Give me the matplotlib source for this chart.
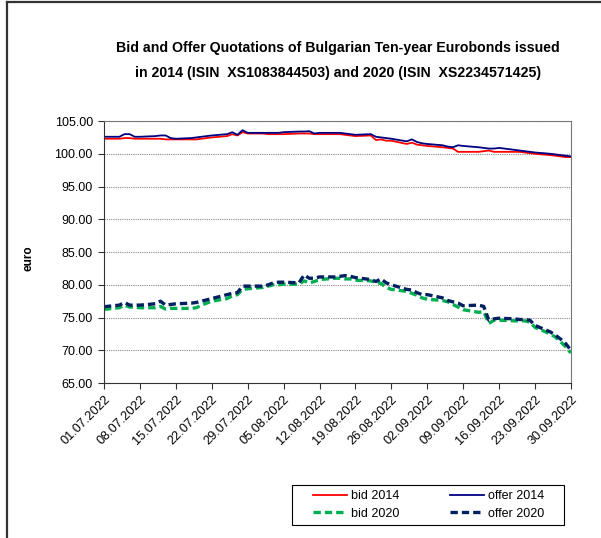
import datetime as dt
import matplotlib.pyplot as plt
from matplotlib.lines import Line2D
from matplotlib.patches import Rectangle

# trading days (day offset from 01.07.2022)
days = [0, 3, 4, 5, 6, 7, 10, 11, 12, 13, 14, 17, 18, 19, 20, 21, 24, 25, 26, 27, 28,
        31, 32, 33, 34, 35, 38, 39, 40, 41, 42, 45, 46, 47, 48, 49, 52, 53, 54, 55, 56,
        59, 60, 61, 62, 63, 66, 67, 68, 69, 70, 73, 74, 75, 76, 77, 80, 81, 82, 83, 84,
        87, 88, 89, 90, 91]

bid_2014 = [102.3, 102.3, 102.4, 102.4, 102.3, 102.3, 102.3, 102.3, 102.2, 102.2, 102.2,
            102.2, 102.2, 102.3, 102.4, 102.5, 102.7, 103.0, 102.8, 103.3, 103.1,
            103.1, 103.0, 103.0, 103.0, 103.0, 103.1, 103.1, 103.1, 103.0, 103.0,
            103.0, 103.0, 102.9, 102.8, 102.7, 102.8, 102.1, 102.2, 102.0, 102.0,
            101.5, 101.7, 101.4, 101.3, 101.2, 101.0, 100.9, 100.8, 100.3, 100.3,
            100.3, 100.4, 100.5, 100.3, 100.3, 100.3, 100.3, 100.2, 100.1, 100.0,
            99.8, 99.7, 99.6, 99.5, 99.5]
offer_2014 = [102.6, 102.6, 103.0, 103.0, 102.6, 102.6, 102.7, 102.8, 102.8, 102.4, 102.3,
              102.4, 102.5, 102.6, 102.7, 102.8, 103.0, 103.3, 102.9, 103.6, 103.2,
              103.2, 103.2, 103.2, 103.2, 103.3, 103.4, 103.4, 103.45, 103.1, 103.2,
              103.2, 103.2, 103.1, 103.0, 102.9, 103.0, 102.6, 102.5, 102.4, 102.3,
              101.9, 102.2, 101.8, 101.6, 101.5, 101.3, 101.1, 101.0, 101.3, 101.2,
              101.0, 100.9, 100.8, 100.8, 100.9, 100.6, 100.5, 100.4, 100.3, 100.2,
              100.0, 99.9, 99.8, 99.7, 99.6]
bid_2020 = [76.25, 76.5, 76.9, 76.6, 76.6, 76.5, 76.5, 76.7, 76.3, 76.4, 76.4,
            76.4, 76.5, 76.9, 77.2, 77.5, 77.9, 78.3, 78.5, 79.3, 79.4,
            79.6, 79.8, 80.0, 80.0, 80.1, 80.1, 80.6, 80.3, 80.5, 80.8,
            81.0, 81.0, 80.9, 80.9, 80.7, 80.6, 80.4, 80.2, 79.6, 79.3,
            79.0, 78.7, 78.4, 78.0, 77.8, 77.6, 77.4, 77.0, 76.6, 76.2,
            75.8, 75.9, 74.1, 74.6, 74.6, 74.5, 74.5, 74.5, 74.3, 73.5,
            72.5, 72.0, 71.3, 70.5, 69.6]
offer_2020 = [76.65, 76.9, 77.3, 76.9, 76.9, 76.9, 77.1, 77.5, 76.9, 77.0, 77.1,
              77.2, 77.3, 77.5, 77.7, 77.9, 78.5, 78.7, 78.8, 79.8, 79.8,
              79.8, 80.0, 80.3, 80.4, 80.4, 80.3, 81.5, 81.0, 81.0, 81.2,
              81.2, 81.3, 81.4, 81.3, 81.1, 80.8, 80.5, 80.9, 80.3, 80.0,
              79.3, 79.2, 78.8, 78.5, 78.5, 78.0, 77.6, 77.4, 77.2, 76.8,
              76.9, 76.7, 74.6, 74.8, 74.9, 74.8, 74.7, 74.7, 74.6, 73.8,
              72.8, 72.3, 71.7, 71.0, 70.0]

start = dt.date(2022, 7, 1)
dates = [start + dt.timedelta(days=d) for d in days]
tick_dates = [start + dt.timedelta(days=7 * i) for i in range(14)]

plt.rcParams['font.family'] = ['Liberation Sans', 'DejaVu Sans']

fig = plt.figure(figsize=(6.01, 5.38), dpi=100)
ax = fig.add_axes([0.173, 0.288, 0.777, 0.487])

ax.plot(dates, bid_2014, color="#ff0000", lw=1.3, label="bid 2014")
ax.plot(dates, bid_2020, color="#00b050", lw=2.4, ls=(0, (2.2, 1.2)), label="bid 2020")
ax.plot(dates, offer_2014, color="#000080", lw=1.3, label="offer 2014")
ax.plot(dates, offer_2020, color="#002060", lw=2.4, ls=(0, (2.2, 1.2)), label="offer 2020")

ax.set_xlim(start, tick_dates[-1])
ax.set_ylim(65, 105)
ax.set_yticks(range(65, 106, 5))
ax.set_yticklabels(["%.2f" % v for v in range(65, 106, 5)], fontsize=9)
ax.set_xticks(tick_dates)
ax.set_xticklabels([d.strftime("%d.%m.%Y") for d in tick_dates], rotation=45,
                   ha="right", rotation_mode="anchor", fontsize=9.2)
ax.tick_params(length=4, width=0.8, colors="#333333", labelcolor="black")
ax.tick_params(axis="y", pad=4)

ax.grid(axis="y", color="#888888", ls=(0, (1, 1)), lw=0.8)
ax.set_axisbelow(True)
for s in ["top", "right"]:
    ax.spines[s].set_color("#777777")
for s in ["left", "bottom"]:
    ax.spines[s].set_color("#333333")

ax.set_ylabel("euro", fontsize=8.5, fontweight="bold")
ax.yaxis.set_label_coords(-0.148, 0.477)

fig.text(0.562, 0.9108, "Bid and Offer Quotations of Bulgarian Ten-year Eurobonds issued",
         ha="center", va="center", fontsize=10.2, fontweight="bold")
fig.text(0.562, 0.8643, "in 2014 (ISIN  XS1083844503) and 2020 (ISIN  XS2234571425)",
         ha="center", va="center", fontsize=10.2, fontweight="bold")

leg = fig.legend(loc="center", bbox_to_anchor=(0.713, 0.0613), ncol=2, fontsize=9,
                 frameon=False, handlelength=2.75, columnspacing=4.0,
                 handletextpad=0.33, borderpad=0, labelspacing=0.45)
fig.add_artist(Rectangle((292 / 601, 1 - 525 / 538), 272 / 601, 40 / 538,
                         transform=fig.transFigure, fill=False, edgecolor="black", lw=0.8))

# outer frame (left and top edges)
fig.add_artist(Line2D([0.011, 0.011], [0, 0.996], color="#333333", lw=1.6))
fig.add_artist(Line2D([0.011, 1], [0.996, 0.996], color="#333333", lw=1.6))

plt.savefig("out.png", dpi=100)
